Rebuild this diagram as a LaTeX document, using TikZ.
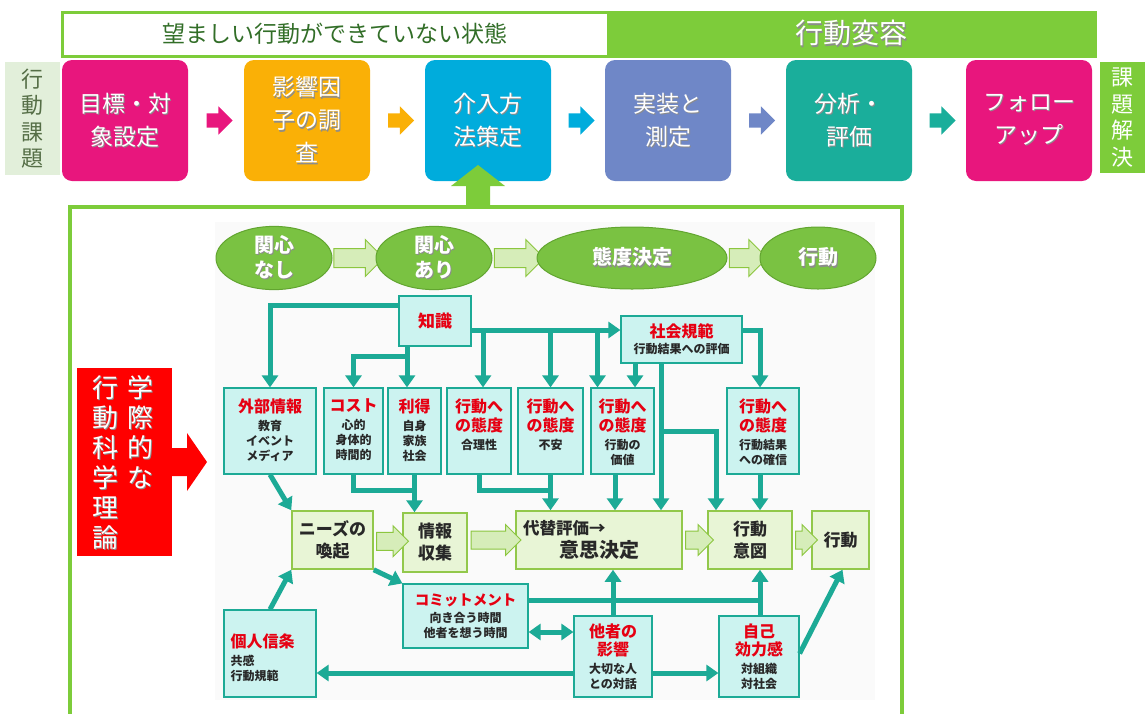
\documentclass[tikz,border=0pt]{standalone}
\usepackage{fontspec}
\setmainfont{Noto Sans CJK JP}
\usetikzlibrary{arrows.meta,shapes.geometric,shapes.arrows,calc}
\definecolor{tealc}{RGB}{28,170,150}
\definecolor{cyanfill}{RGB}{204,243,240}
\definecolor{greenfill}{RGB}{232,245,214}
\definecolor{boxgreen}{RGB}{146,200,75}
\definecolor{ellgreen}{RGB}{122,194,66}
\definecolor{ellborder}{RGB}{98,165,48}
\definecolor{hollowfill}{RGB}{214,237,185}
\definecolor{hollowdraw}{RGB}{140,198,63}
\definecolor{bandgreen}{RGB}{125,204,58}
\definecolor{magentac}{RGB}{232,22,125}
\definecolor{orangec}{RGB}{250,176,6}
\definecolor{cyanstep}{RGB}{0,172,220}
\definecolor{lavender}{RGB}{111,135,199}
\definecolor{tealstep}{RGB}{26,174,155}
\definecolor{lightlab}{RGB}{226,239,218}
\definecolor{labtext}{RGB}{85,110,70}
\definecolor{titlered}{RGB}{230,0,18}
\definecolor{textdark}{RGB}{40,40,40}
\definecolor{wanttext}{RGB}{50,110,40}
\newcommand\sh[1]{\leavevmode\rlap{\kern1.2pt\raisebox{-1.2pt}{\textcolor{black!45}{#1}}}#1}
\newcommand\rt[1]{{\color{titlered}\fontsize{16}{19}\selectfont #1}}
\begin{document}
\begin{tikzpicture}[x=1pt,y=-1pt,
  stepbox/.style={rounded corners=10pt, minimum width=126pt, minimum height=121pt, inner sep=0pt, text=white, align=center, font=\fontsize{23}{33}\selectfont},
  steparr/.style={single arrow, minimum height=26pt, inner xsep=0pt, inner ysep=7pt, single arrow head extend=7pt},
  hollowe/.style={single arrow, draw=hollowdraw, fill=hollowfill, line width=1pt, inner xsep=0pt, inner ysep=9pt, single arrow head extend=9pt},
  hollowm/.style={single arrow, draw=hollowdraw, fill=hollowfill, line width=1pt, inner xsep=0pt, inner ysep=8.5pt, single arrow head extend=6.5pt},
  ell/.style={ellipse, fill=ellgreen, draw=ellborder, line width=1pt, text=white, inner sep=0pt, align=center, font=\bfseries\fontsize{20}{25}\selectfont},
  cbox/.style={draw=tealc, line width=1.2pt, fill=cyanfill, inner sep=0pt},
  gbox/.style={draw=boxgreen, line width=1.5pt, fill=greenfill, inner sep=0pt, align=center, text=textdark, font=\bfseries\fontsize{17}{22}\selectfont},
  lbl/.style={align=center, inner sep=0pt, text=textdark, font=\bfseries\fontsize{12}{15}\selectfont},
  conn/.style={draw=tealc, line width=5pt},
  carr/.style={conn, -{Triangle[width=16pt,length=12pt]}}
]
\useasboundingbox (0,0) rectangle (1145,713);

% top band
\node[draw=bandgreen, line width=3pt, fill=white, minimum width=546pt, minimum height=44pt, inner sep=0pt, text=wanttext, font=\fontsize{23}{28}\selectfont] (want) at (335,34) {望ましい行動ができていない状態};
\node[draw=bandgreen, line width=3pt, fill=bandgreen, minimum width=487pt, minimum height=44pt, inner sep=0pt, text=white, font=\fontsize{28}{32}\selectfont] (change) at (851.5,34) {\sh{行動変容}};

% side labels
\node[fill=lightlab, minimum width=55pt, minimum height=113pt, inner sep=0pt, align=center, text=labtext, font=\fontsize{22}{26.5}\selectfont] (lab1) at (32.5,118.5) {行\\動\\課\\題};
\node[fill=bandgreen, minimum width=45pt, minimum height=111pt, inner sep=0pt, align=center, text=white, font=\fontsize{22}{26.5}\selectfont] (lab2) at (1122.5,117.5) {課\\題\\解\\決};

% step boxes
\node[stepbox, fill=magentac] (s1) at (125,120.5) {\sh{目標・対}\\\sh{象設定}};
\node[stepbox, fill=orangec] (s2) at (307,120.5) {\sh{影響因}\\\sh{子の調}\\\sh{査}};
\node[stepbox, fill=cyanstep] (s3) at (488,120.5) {\sh{介入方}\\\sh{法策定}};
\node[stepbox, fill=lavender] (s4) at (668,120.5) {\sh{実装と}\\\sh{測定}};
\node[stepbox, fill=tealstep] (s5) at (849,120.5) {\sh{分析・}\\\sh{評価}};
\node[stepbox, fill=magentac] (s6) at (1029,120.5) {\sh{フォロー}\\\sh{アップ}};
\node[steparr, fill=magentac] (a1) at ($(s1.east)!0.5!(s2.west)$) {};
\node[steparr, fill=orangec] (a2) at ($(s2.east)!0.5!(s3.west)$) {};
\node[steparr, fill=cyanstep] (a3) at ($(s3.east)!0.5!(s4.west)$) {};
\node[steparr, fill=lavender] (a4) at ($(s4.east)!0.5!(s5.west)$) {};
\node[steparr, fill=tealstep] (a5) at ($(s5.east)!0.5!(s6.west)$) {};

% green up arrow and frame
\fill[bandgreen] (466,207) -- (466,186) -- (451,186) -- (478,165) -- (505,186) -- (490,186) -- (490,207) -- cycle;
\draw[bandgreen, line width=4pt] (70,720) -- (70,207) -- (902,207) -- (902,720);
\fill[black!2] (215,222) rectangle (875,700);

% theory box
\node[fill=red, minimum width=95pt, minimum height=188pt, inner sep=0pt] (theory) at (124.5,462) {};
\node[anchor=north, inner sep=0pt, align=center, text=white, font=\fontsize{26}{30}\selectfont] (thl) at (105,375) {\sh{行}\\\sh{動}\\\sh{科}\\\sh{学}\\\sh{理}\\\sh{論}};
\node[anchor=north, inner sep=0pt, align=center, text=white, font=\fontsize{26}{30}\selectfont] (thr) at (140,375) {\sh{学}\\\sh{際}\\\sh{的}\\\sh{な}};
\fill[red] (172,448) -- (187,448) -- (187,433) -- (207,462) -- (187,491) -- (187,476) -- (172,476) -- cycle;

% ellipses
\coordinate (e1c) at (274,258);
\coordinate (e2c) at (434,258);
\coordinate (e3c) at (632,258);
\coordinate (e4c) at (818,258);
\node[hollowe, minimum height=50pt] (h1) at ($(e1c)!0.5!(e2c)$) {};
\node[hollowe, minimum height=50pt] (h2) at (514.5,258) {};
\node[hollowe, minimum height=38pt] (h3) at (743.5,258) {};
\node[ell, minimum width=116pt, minimum height=62pt] (e1) at (e1c) {\sh{関心}\\\sh{なし}};
\node[ell, minimum width=116pt, minimum height=62pt] (e2) at (e2c) {\sh{関心}\\\sh{あり}};
\node[ell, minimum width=190pt, minimum height=62pt] (e3) at (e3c) {\sh{態度決定}};
\node[ell, minimum width=116pt, minimum height=62pt] (e4) at (e4c) {\sh{行動}};

% upper boxes
\node[cbox, minimum width=72pt, minimum height=50pt, text=titlered, font=\bfseries\fontsize{17}{19}\selectfont] (know) at (435,321) {知識};
\node[cbox, lbl, minimum width=121pt, minimum height=47pt] (norm) at (681.5,339.5) {\rt{社会規範}\\[1pt]行動結果への評価};
\node[cbox, minimum width=92pt, minimum height=86pt, label={[lbl,anchor=north,yshift=-11pt]north:{\rt{外部情報}\\[3pt]教育\\イベント\\メディア}}] (ext) at (270,431) {};
\node[cbox, minimum width=59pt, minimum height=86pt, label={[lbl,anchor=north,yshift=-11pt]north:{\rt{コスト}\\[3pt]心的\\身体的\\時間的}}] (cost) at (353.5,431) {};
\node[cbox, minimum width=53pt, minimum height=86pt, label={[lbl,anchor=north,yshift=-11pt]north:{\rt{利得}\\[3pt]自身\\家族\\社会}}] (gain) at (414.5,431) {};
\node[cbox, minimum width=64pt, minimum height=86pt, label={[lbl,anchor=north,yshift=-11pt]north:{\rt{行動へ}\\[3pt]\rt{の態度}\\[3pt]合理性}}] (ratl) at (479,431) {};
\node[cbox, minimum width=65pt, minimum height=86pt, label={[lbl,anchor=north,yshift=-11pt]north:{\rt{行動へ}\\[3pt]\rt{の態度}\\[3pt]不安}}] (anx) at (550.5,431) {};
\node[cbox, minimum width=63pt, minimum height=86pt, label={[lbl,anchor=north,yshift=-11pt]north:{\rt{行動へ}\\[3pt]\rt{の態度}\\[3pt]行動の\\価値}}] (val) at (622.5,431) {};
\node[cbox, minimum width=72pt, minimum height=86pt, label={[lbl,anchor=north,yshift=-11pt]north:{\rt{行動へ}\\[3pt]\rt{の態度}\\[3pt]行動結果\\への確信}}] (conf) at (763,431) {};

% main row
\node[gbox, minimum width=81pt, minimum height=58pt] (needs) at (332.5,540) {ニーズの\\喚起};
\node[gbox, minimum width=64pt, minimum height=59pt] (info) at (435,542.5) {情報\\収集};
\node[gbox, minimum width=166pt, minimum height=58pt] (alt) at (599,540) {\makebox[152pt][l]{\fontsize{16.5}{20}\selectfont 代替評価→}\\[1pt]{\fontsize{20}{24}\selectfont 意思決定}};
\node[gbox, minimum width=84pt, minimum height=58pt] (intent) at (750,540) {行動\\意図};
\node[gbox, minimum width=57pt, minimum height=58pt] (act) at (840.5,540) {行動};
\node[hollowm, minimum height=32pt] (m1) at ($(needs.east)!0.5!(info.west)$) {};
\node[hollowm, minimum height=50pt] (m2) at (491.5,540) {};
\node[hollowm, minimum height=28pt] (m3) at ($(alt.east)!0.5!(intent.west)$) {};
\node[hollowm, minimum height=22pt] (m4) at ($(intent.east)!0.5!(act.west)$) {};

% bottom boxes
\node[cbox, minimum width=92pt, minimum height=87pt, label={[lbl,align=left,anchor=west,xshift=7pt,yshift=-4pt]west:{\rt{個人信条}\\[3pt]共感\\行動規範}}] (belief) at (270,653.5) {};
\node[cbox, lbl, minimum width=125pt, minimum height=64pt] (commit) at (465.5,616) {{\color{titlered}\fontsize{14.5}{17}\selectfont コミットメント}\\[2pt]向き合う時間\\他者を想う時間};
\node[cbox, lbl, minimum width=78pt, minimum height=81pt] (other) at (613,656.5) {\rt{他者の}\\[2pt]\rt{影響}\\[3pt]大切な人\\との対話};
\node[cbox, lbl, minimum width=80pt, minimum height=81pt] (self) at (759,656.5) {\rt{自己}\\[2pt]\rt{効力感}\\[3pt]対組織\\対社会};

% connectors
\coordinate (kb) at (0,356);
\coordinate (r1) at (0,490);
\coordinate (kr) at ([yshift=-9pt]know.east);
\draw[carr] ([yshift=16pt]know.west) -| (ext.north);
\draw[carr] ([xshift=-28pt]know.south) |- (kb -| cost.north) -- (cost.north);
\draw[carr] ([xshift=-28pt]know.south) -- ([xshift=-28pt]know.south |- gain.north);
\draw[carr] (kr) -- (kr -| norm.west);
\draw[carr] ([xshift=4pt]ratl.north |- kr) -- ([xshift=4pt]ratl.north);
\draw[carr] (anx.north |- kr) -- (anx.north);
\draw[carr] ([xshift=-25pt]val.north |- kr) -- ([xshift=-25pt]val.north);
\draw[carr] ([xshift=-46.5pt]norm.south) -- ([xshift=-46.5pt]norm.south |- val.north);
\draw[carr] ([xshift=-20.5pt]norm.south) -- ([xshift=-20.5pt]norm.south |- alt.north);
\draw[carr] ([xshift=-20.5pt]norm.south |- val.east) -| ([xshift=-34pt]intent.north);
\draw[carr] ([yshift=9.5pt]norm.east) -| ([xshift=-3pt]conf.north);
\draw[carr] ([xshift=-3pt]conf.south) -- ([xshift=-3pt]conf.south |- intent.north);
\draw[carr] ([xshift=-7.5pt]val.south) -- ([xshift=-7.5pt]val.south |- alt.north);
\draw[conn] (ratl.south) |- (anx.south |- r1);
\draw[carr] (anx.south) -- (anx.south |- alt.north);
\draw[conn] (cost.south) |- (gain.south |- r1);
\draw[carr] (gain.south) -- (gain.south |- info.north);
\draw[carr] (ext.south) -- (needs.north west);
\draw[carr] (needs.south east) -- (commit.north west);
\draw[carr] (belief.north) -- (needs.south west);
\draw[conn] ([yshift=16pt]commit.east) -| ([xshift=1pt]self.north);
\draw[carr] ([xshift=1pt]self.north) -- ([xshift=1pt]self.north |- intent.south);
\draw[carr] (other.north) -- (other.north |- alt.south);
\draw[conn, {Triangle[width=16pt,length=12pt]}-{Triangle[width=16pt,length=12pt]}] ([yshift=-16pt]commit.east) -- ([yshift=-16pt]commit.east -| other.west);
\draw[carr] ([yshift=-16.5pt]other.west) -- ([yshift=-16.5pt]other.west -| belief.east);
\draw[carr] ([yshift=-16.5pt]other.east) -- ([yshift=-16.5pt]other.east -| self.west);
\draw[carr] ([yshift=3pt]self.east) -- ([xshift=2pt]act.south);
\end{tikzpicture}
\end{document}
